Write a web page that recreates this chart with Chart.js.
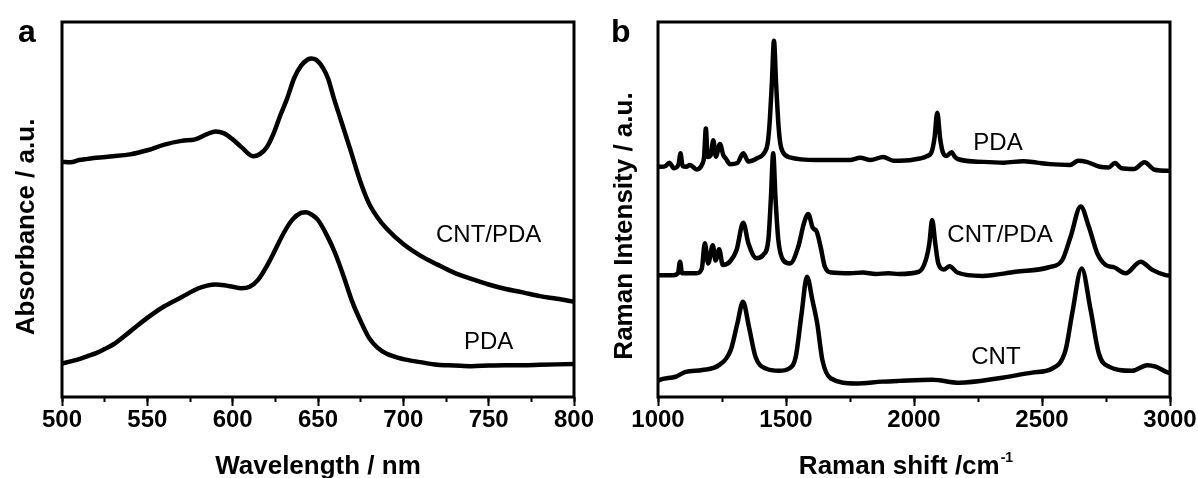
<!DOCTYPE html>
<html>
<head>
<meta charset="utf-8">
<script src="https://cdn.jsdelivr.net/npm/chart.js@4"></script>
<style>
  body { margin: 0; background: #fff; }
  #wrap { position: relative; width: 1198px; height: 478px; }
  canvas { position: absolute; top: 0; }
  #chartA { left: 0; }
  #chartB { left: 598px; }
</style>
</head>
<body>
<div id="wrap">
  <canvas id="chartA" width="600" height="478"></canvas>
  <canvas id="chartB" width="600" height="478"></canvas>
</div>
<script>
// ---- panel a: UV-vis absorbance (a.u., 0 = bottom of frame, 100 = top) ----
const wlTicks = [500, 550, 600, 650, 700, 750, 800];

const wlCntPda = [500, 505, 510, 515, 520, 530, 540, 550, 560, 570, 578, 585, 590, 595, 600,
  605, 612, 616, 620, 624, 628, 632, 636, 640, 644, 646, 649, 653, 656, 659, 663, 669, 675, 680, 685,
  690, 700, 710, 720, 730, 740, 750, 760, 770, 780, 790, 800];
const absCntPda = [62.7, 62.6, 63.2, 63.5, 63.8, 64.2, 64.7, 65.8, 67.3, 68.3, 68.7, 70.1, 70.8, 70.3, 68.7,
  66.7, 64.2, 64.8, 66.6, 70.3, 75.2, 79.7, 85.0, 88.3, 90.0, 90.3, 89.9, 87.7, 84.8, 80.1, 74.4, 65.9, 57.2, 51.5, 47.8,
  45.0, 40.8, 37.7, 35.3, 33.1, 31.5, 30.0, 28.8, 27.9, 26.9, 26.2, 25.4];

const wlPda = [500, 505, 510, 515, 520, 525, 530, 540, 550, 560, 570, 580, 585, 590, 595, 600,
  605, 610, 615, 620, 625, 630, 635, 640, 643, 647, 650, 655, 660, 665, 670, 675, 680, 685,
  690, 700, 710, 720, 730, 740, 750, 760, 770, 780, 790, 800];
const absPda = [8.9, 9.5, 10.1, 10.9, 11.7, 12.8, 14.0, 17.5, 21.1, 24.2, 26.6, 29.0, 29.7, 30.0, 29.8, 29.4,
  29.0, 29.4, 31.3, 34.9, 39.3, 43.8, 47.3, 49.1, 49.3, 48.4, 47.2, 43.3, 38.4, 32.2, 25.5, 20.2, 15.7, 13.1,
  11.6, 10.1, 9.3, 8.6, 8.4, 8.2, 8.4, 8.5, 8.5, 8.6, 8.7, 8.8];

// ---- panel b: Raman spectra (a.u., stacked) ----
const ramanTicks = [1000, 1500, 2000, 2500, 3000];

const shiftPda = [1000, 1012, 1030, 1044, 1062, 1080, 1088, 1096, 1110, 1125, 1151, 1174, 1180, 1187,
  1194, 1206, 1216, 1226, 1242, 1255, 1265, 1281, 1310, 1333, 1353, 1385, 1418, 1428, 1435, 1445,
  1453, 1461, 1471, 1478, 1487, 1515, 1620, 1750, 1790, 1830, 1880, 1920, 1945, 2023, 2050, 2069,
  2080, 2091, 2102, 2112, 2127, 2147, 2160, 2173, 2270, 2350, 2427, 2480, 2531, 2609, 2642, 2674,
  2726, 2760, 2785, 2810, 2860, 2900, 2940, 3000];
const ramanPda = [61.5, 61.4, 61.6, 62.5, 61.0, 62.0, 65.0, 61.6, 61.4, 61.9, 60.7, 62.3, 64.0, 71.6,
  64.0, 64.5, 68.5, 64.1, 67.5, 64.5, 63.6, 62.1, 62.4, 65.0, 62.8, 63.6, 65.4, 67.5, 72.1, 84.0,
  95.0, 84.0, 72.1, 67.5, 65.4, 63.9, 63.2, 63.2, 63.8, 63.2, 64.0, 63.0, 63.0, 63.6, 64.2, 65.4,
  69.0, 75.8, 69.0, 65.4, 64.3, 65.3, 64.0, 63.4, 62.7, 62.5, 62.9, 62.5, 62.1, 61.9, 63.0, 62.7,
  61.4, 61.2, 62.4, 61.0, 60.8, 62.6, 60.6, 60.3];

const shiftCntPda = [1000, 1008, 1060, 1078, 1086, 1094, 1151, 1171, 1183, 1196, 1214, 1225, 1239,
  1253, 1281, 1307, 1333, 1353, 1385, 1411, 1431, 1441, 1450, 1459, 1470, 1489, 1516, 1548, 1570,
  1587, 1604, 1620, 1635, 1652, 1678, 1750, 1800, 1850, 1900, 1941, 2019, 2046, 2060, 2071, 2083,
  2095, 2117, 2139, 2169, 2267, 2397, 2527, 2579, 2612, 2651, 2683, 2716, 2749, 2781, 2827, 2885,
  2931, 2983, 3000];
const ramanCntPda = [32.3, 32.5, 32.5, 33.0, 36.1, 33.0, 33.0, 34.2, 41.0, 35.6, 40.5, 36.4, 39.4,
  35.2, 36.1, 39.2, 46.5, 41.0, 37.0, 37.9, 41.9, 53.0, 65.0, 53.0, 41.9, 36.5, 35.6, 40.1, 46.3,
  48.8, 45.2, 44.1, 40.1, 34.7, 33.2, 33.0, 33.2, 32.8, 33.0, 32.8, 33.4, 36.5, 41.0, 47.2, 41.0,
  35.6, 34.0, 34.9, 33.2, 32.3, 33.4, 34.6, 36.5, 42.8, 50.8, 45.4, 38.3, 35.2, 34.6, 33.0, 36.1,
  33.9, 32.5, 32.4];

const shiftCnt = [1000, 1004, 1069, 1108, 1173, 1238, 1284, 1310, 1332, 1355, 1381, 1421, 1473, 1512,
  1538, 1561, 1582, 1603, 1622, 1642, 1674, 1772, 1876, 1941, 2071, 2176, 2332, 2462, 2540, 2592,
  2618, 2655, 2690, 2722, 2761, 2852, 2911, 2944, 2993, 3000];
const ramanCnt = [4.3, 4.5, 5.4, 6.7, 7.2, 8.5, 12.5, 19.6, 25.4, 18.8, 10.7, 7.6, 7.0, 7.6,
  10.7, 22.3, 32.1, 25.9, 19.6, 9.9, 5.0, 3.6, 4.1, 4.3, 4.6, 3.8, 5.0, 6.5, 7.6, 12.5,
  22.3, 34.3, 23.2, 11.6, 8.1, 7.0, 8.5, 8.1, 6.5, 6.4];

const FONT = '"Liberation Sans", Arial, sans-serif';
Chart.defaults.font.family = FONT;
Chart.defaults.color = '#000';

const framePlugin = {
  id: 'frame',
  afterDraw(chart) {
    const { ctx, chartArea: a } = chart;
    ctx.save();
    ctx.lineWidth = 3;
    ctx.strokeStyle = '#000';
    ctx.strokeRect(a.left, a.top, a.right - a.left, a.bottom - a.top);
    ctx.restore();
  }
};

function textPlugin(t) {
  return {
    id: 'panelText',
    afterDraw(chart) {
      const { ctx, scales } = chart;
      ctx.save();
      ctx.fillStyle = '#000';

      ctx.font = 'bold 32px ' + FONT;
      ctx.textAlign = 'left';
      ctx.textBaseline = 'alphabetic';
      ctx.fillText(t.letter, t.letterX, 42);

      ctx.font = '24px ' + FONT;
      ctx.textAlign = 'center';
      ctx.textBaseline = 'middle';
      t.labels.forEach(l => {
        ctx.fillText(l.text, scales.x.getPixelForValue(l.x), scales.y.getPixelForValue(l.y));
      });

      // x title (optional superscript)
      ctx.textBaseline = 'alphabetic';
      ctx.textAlign = 'left';
      ctx.font = 'bold 26px ' + FONT;
      const w1 = ctx.measureText(t.xTitle).width;
      let w2 = 0;
      if (t.xSup) {
        ctx.font = 'bold 14px ' + FONT;
        w2 = ctx.measureText(t.xSup).width + 1;
      }
      const x0 = t.xTitleX - (w1 + w2) / 2;
      ctx.font = 'bold 26px ' + FONT;
      ctx.fillText(t.xTitle, x0, 474);
      if (t.xSup) {
        ctx.font = 'bold 14px ' + FONT;
        ctx.fillText(t.xSup, x0 + w1 + 1, 462);
      }

      // y title
      ctx.translate(34, t.yTitleY);
      ctx.rotate(-Math.PI / 2);
      ctx.textAlign = 'center';
      ctx.font = 'bold 26px ' + FONT;
      ctx.fillText(t.yTitle, 0, 0);
      ctx.restore();
    }
  };
}

function line(xs, ys) {
  return {
    data: xs.map((x, i) => ({ x: x, y: ys[i] })),
    borderColor: '#000',
    borderWidth: 4.5,
    pointRadius: 0,
    cubicInterpolationMode: 'monotone',
    borderJoinStyle: 'round',
    borderCapStyle: 'round'
  };
}

function makePanel(id, p) {
  const ticks = p.ticks;
  return new Chart(document.getElementById(id), {
    type: 'line',
    data: { datasets: p.series },
    options: {
      responsive: false,
      animation: false,
      devicePixelRatio: 1,
      layout: { padding: { top: 22, right: p.padRight, left: 0, bottom: 0 } },
      plugins: { legend: { display: false }, tooltip: { enabled: false } },
      scales: {
        x: {
          type: 'linear', position: 'bottom', weight: 1,
          min: ticks[0], max: ticks[ticks.length - 1],
          ticks: {
            stepSize: ticks[1] - ticks[0], autoSkip: false, maxRotation: 0, padding: 0,
            font: { size: p.tickSize, weight: 'bold' }, color: '#000',
            callback: v => String(v)
          },
          grid: { drawOnChartArea: false, tickLength: 9, tickWidth: 2, color: '#000' },
          border: { display: false },
          afterFit: s => { s.height = 81; }
        },
        xMinor: {
          type: 'linear', position: 'bottom', weight: 0,
          min: ticks[0], max: ticks[ticks.length - 1],
          ticks: { display: false, stepSize: (ticks[1] - ticks[0]) / 2 },
          grid: { drawOnChartArea: false, tickLength: 5, tickWidth: 2, color: '#000' },
          border: { display: false },
          afterFit: s => { s.height = 0; }
        },
        y: {
          min: 0, max: 100,
          ticks: { display: false },
          grid: { display: false },
          border: { display: false },
          afterFit: s => { s.width = p.left; }
        }
      }
    },
    plugins: [framePlugin, textPlugin(p.text)]
  });
}

makePanel('chartA', {
  ticks: wlTicks,
  tickSize: 24,
  left: 62,
  padRight: 26,
  series: [line(wlCntPda, absCntPda), line(wlPda, absPda)],
  text: {
    letter: 'a', letterX: 18,
    labels: [{ text: 'CNT/PDA', x: 750, y: 43.2 }, { text: 'PDA', x: 750, y: 14.7 }],
    xTitle: 'Wavelength / nm', xTitleX: 318,
    yTitle: 'Absorbance / a.u.', yTitleY: 227
  }
});

makePanel('chartB', {
  ticks: ramanTicks,
  tickSize: 24,
  left: 60,
  padRight: 28,
  series: [line(shiftPda, ramanPda), line(shiftCntPda, ramanCntPda), line(shiftCnt, ramanCnt)],
  text: {
    letter: 'b', letterX: 13,
    labels: [
      { text: 'PDA', x: 2328, y: 67.7 },
      { text: 'CNT/PDA', x: 2336, y: 43.2 },
      { text: 'CNT', x: 2320, y: 10.7 }
    ],
    xTitle: 'Raman shift /cm', xSup: '-1', xTitleX: 308,
    yTitle: 'Raman Intensity / a.u.', yTitleY: 226
  }
});
</script>
</body>
</html>
